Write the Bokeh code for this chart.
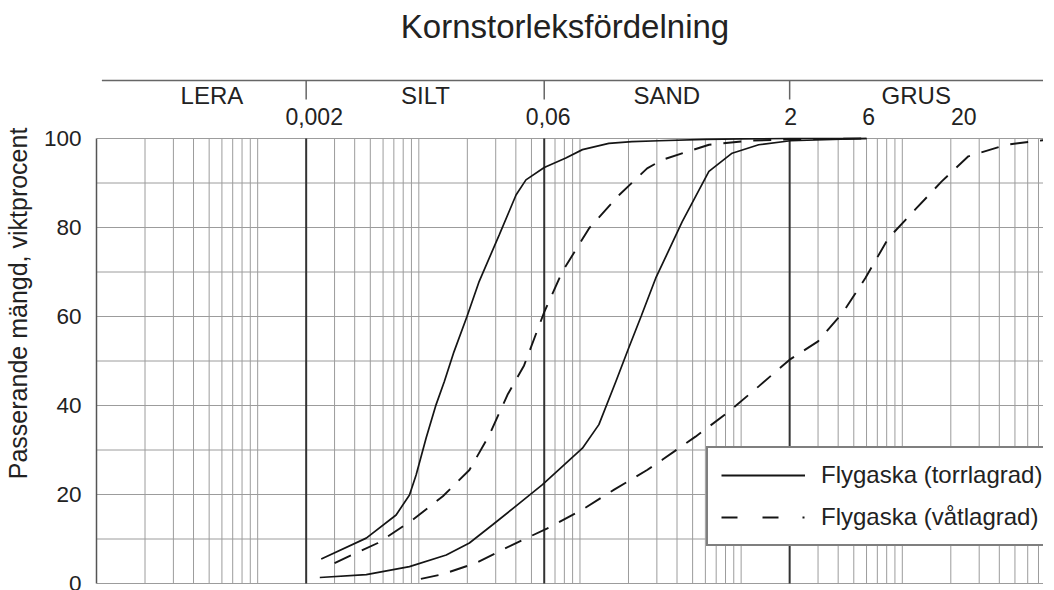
import math
from bokeh.plotting import figure
from bokeh.models import Range1d, Legend, LegendItem, FixedTicker
from bokeh.core.properties import value
from bokeh.embed import file_html
from bokeh.resources import INLINE

title = "Kornstorleksfördelning"
y_label = "Passerande mängd, viktprocent"
legend_labels = ["Flygaska (torrlagrad)", "Flygaska (våtlagrad)"]

# Flygaska (torrlagrad), finer sample - solid
dry_fine_d = [0.00248, 0.00472, 0.00723, 0.00875, 0.00962, 0.0111, 0.0128, 0.0144,
              0.0165, 0.0199, 0.0237, 0.0316, 0.0401, 0.0462, 0.060, 0.0817, 0.1036,
              0.151, 0.21, 0.31, 0.6, 1.0, 2.0, 6.0]
dry_fine_p = [5.5, 10.2, 15.4, 19.9, 24.4, 32.7, 40.2, 45.4,
              52.0, 60.0, 67.9, 78.4, 87.3, 90.7, 93.5, 95.6, 97.5,
              98.9, 99.3, 99.5, 99.8, 99.9, 100.0, 100.0]

# Flygaska (våtlagrad), finer sample - dashed
wet_fine_d = [0.0030, 0.00557, 0.00917, 0.0141, 0.0206, 0.0274, 0.0355, 0.045,
              0.060, 0.0778, 0.1138, 0.175, 0.261, 0.324, 0.632, 1.11, 2.0, 6.0]
wet_fine_p = [4.6, 9.1, 14.3, 19.6, 25.5, 33.4, 42.4, 49.0,
              61.0, 70.1, 79.8, 87.3, 93.3, 95.2, 98.6, 99.5, 99.8, 100.0]

# Flygaska (torrlagrad), coarser sample - solid
dry_coarse_d = [0.00243, 0.00472, 0.00875, 0.0148, 0.0206, 0.0287, 0.042, 0.0585,
                0.1036, 0.131, 0.167, 0.20, 0.24, 0.295, 0.431, 0.631, 0.879,
                1.285, 2.02, 6.0]
dry_coarse_p = [1.35, 2.0, 3.8, 6.4, 9.1, 13.2, 18.0, 22.2,
                30.4, 35.7, 45.4, 52.8, 60.1, 68.6, 81.3, 92.6, 96.7,
                98.6, 99.5, 100.0]

# Flygaska (våtlagrad), coarser sample - dashed
wet_coarse_d = [0.0103, 0.0141, 0.0226, 0.0381, 0.0628, 0.1036, 0.163, 0.261,
                0.324, 0.521, 0.818, 1.285, 2.0, 3.0, 4.32, 5.89, 8.2, 12.0,
                17.5, 25.7, 44.4, 70.0, 80.0]
wet_coarse_p = [1.05, 2.1, 4.6, 8.7, 12.4, 16.6, 21.1, 25.5,
                27.8, 33.0, 38.3, 44.3, 50.3, 54.4, 61.1, 68.6, 77.6, 84.0,
                90.3, 96.0, 98.6, 99.5, 99.7]

fractions = ["LERA", "SILT", "SAND", "GRUS"]
fraction_pos = [0.00052, 0.011, 0.346, 12.2]
boundaries = [0.002, 0.06, 2.0]
size_ticks = [0.002, 0.06, 2.0, 6.0, 20.0]
size_tick_labels = ["0,002", "0,06", "2", "6", "20"]
size_tick_offsets = [8, 4, 1, 2, 13]
y_ticks = [0, 20, 40, 60, 80, 100]
y_grid = [0, 10, 20, 30, 40, 50, 60, 70, 80, 90, 100]

FONT = "Liberation Sans"
TXT = "#222222"
GRID = "#9c9c9c"
INK = "#151515"

PX_PER_DEC = 161.5
LEFT = 94
FRAME_W = 949
FRAME_H = 585
X0 = 1e-4
X1 = X0 * 10 ** (FRAME_W / PX_PER_DEC)
PX_PER_UNIT = 4.45
ZERO_PX = 582          # screen row of 0 % (reference coordinates)
Y0 = -2 / PX_PER_UNIT
Y1 = Y0 + FRAME_H / PX_PER_UNIT
TEXT_LIFT = 3          # text glyphs sit slightly low when middle-aligned


def row(px):
    """reference screen row -> data y"""
    return (ZERO_PX - px) / PX_PER_UNIT


p = figure(width=LEFT + FRAME_W, height=FRAME_H + 7, x_axis_type="log",
           x_range=Range1d(X0, X1), y_range=Range1d(Y0, Y1),
           output_backend="svg", toolbar_location=None, x_axis_location=None,
           min_border_left=LEFT, min_border_right=0, min_border_top=0,
           min_border_bottom=7, outline_line_color=None)
p.grid.visible = False
p.background_fill_color = "white"
p.border_fill_color = "white"

# y axis
ya = p.yaxis[0]
ya.ticker = FixedTicker(ticks=y_ticks)
ya.bounds = (0, 100)
ya.major_tick_in = 0
ya.major_tick_out = 0
ya.minor_tick_in = 0
ya.minor_tick_out = 0
ya.axis_line_color = "#555555"
ya.axis_line_width = 1.5
ya.major_label_text_font = FONT
ya.major_label_text_font_size = "22.5px"
ya.major_label_text_color = TXT
ya.major_label_standoff = 15
# trailing no-break spaces nudge the rotated label's centre down to the grid centre
ya.axis_label = y_label + "\u00a0\u00a0\u00a0"
ya.axis_label_text_font = FONT
ya.axis_label_text_font_size = "25px"
ya.axis_label_text_font_style = "normal"
ya.axis_label_text_color = TXT
ya.axis_label_standoff = 9

# grid: minor log lines
minor = []
dec = X0
while dec < X1:
    for k in range(1, 10):
        v = k * dec
        if X0 < v < X1 and all(abs(v - b) / b > 1e-6 for b in boundaries):
            minor.append(v)
    dec *= 10
p.segment(x0=minor, y0=[0] * len(minor), x1=minor, y1=[100] * len(minor),
          line_color=GRID, line_width=1)
p.segment(x0=[X0] * len(y_grid), y0=y_grid, x1=[X1] * len(y_grid), y1=y_grid,
          line_color=GRID, line_width=1)
p.segment(x0=boundaries, y0=[0] * 3, x1=boundaries, y1=[100] * 3,
          line_color="#333333", line_width=2)

# header
Y_HEAD = row(79)
Y_HEAD_TICK = row(98)
p.segment(x0=[X0 * 1.08], y0=[Y_HEAD], x1=[X1], y1=[Y_HEAD],
          line_color="#666666", line_width=1.5)
p.segment(x0=boundaries, y0=[Y_HEAD] * 3, x1=boundaries, y1=[Y_HEAD_TICK] * 3,
          line_color="#666666", line_width=1.5)
p.text(x=fraction_pos, y=[row(96.5 - TEXT_LIFT)] * 4, text=fractions,
       text_font=value(FONT), text_font_size="24px", text_color=TXT,
       text_align="center", text_baseline="middle")
p.text(x=size_ticks, y=[row(118 - TEXT_LIFT)] * len(size_ticks), text=size_tick_labels,
       x_offset=size_tick_offsets, text_font=value(FONT), text_font_size="23px",
       text_color=TXT, text_align="center", text_baseline="middle")
p.text(x=[math.sqrt(X0 * X1)], y=[row(28 - TEXT_LIFT)], text=[title], x_offset=[-5],
       text_font=value(FONT), text_font_size="33px", text_color=TXT,
       text_align="center", text_baseline="middle")

# curves
p.line(dry_fine_d, dry_fine_p, line_color=INK, line_width=1.7)
p.line(dry_coarse_d, dry_coarse_p, line_color=INK, line_width=1.7)
p.line(wet_fine_d, wet_fine_p, line_color=INK, line_width=1.9, line_dash="18 12")
p.line(wet_coarse_d, wet_coarse_p, line_color=INK, line_width=1.9, line_dash="18 12")

# legend sample renderers (kept outside the visible range)
proxy_x = [X0 / 100, X0 / 50]
proxy_y = [-50, -50]
leg_solid = p.line(proxy_x, proxy_y, line_color=INK, line_width=2)
leg_dash = p.line(proxy_x, proxy_y, line_color=INK, line_width=2,
                  line_dash="16 25 16 24 2 200")
legend = Legend(items=[LegendItem(label=legend_labels[0], renderers=[leg_solid]),
                       LegendItem(label=legend_labels[1], renderers=[leg_dash])],
                location=(610, 39), border_line_color="black", border_line_width=2,
                background_fill_color="white", background_fill_alpha=1.0,
                padding=13, spacing=14, glyph_width=84, glyph_height=26,
                label_height=26, label_standoff=16, label_text_font=FONT,
                label_text_font_size="24px", label_text_color=TXT, margin=0)
p.add_layout(legend)

open("out.html", "w").write(file_html(p, INLINE))
